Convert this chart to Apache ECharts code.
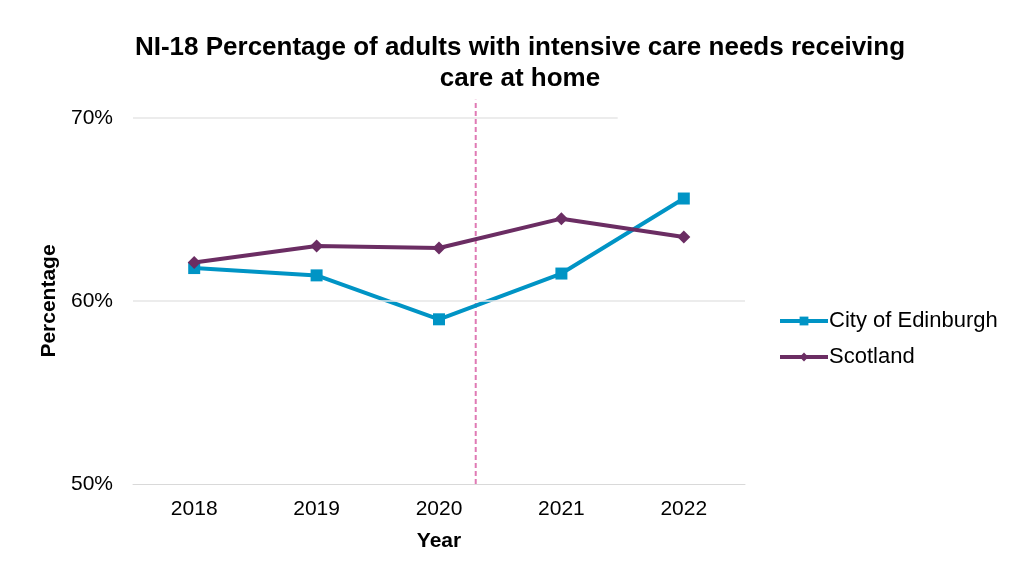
<!DOCTYPE html>
<html>
<head>
<meta charset="utf-8">
<script src="https://cdn.jsdelivr.net/npm/echarts@6/dist/echarts.min.js"></script>
<style>
  html, body { margin: 0; padding: 0; background: #fff; }
  #chart { width: 1009px; height: 571px; }
</style>
</head>
<body>
<div id="chart"></div>
<script>
const years = ['2018', '2019', '2020', '2021', '2022']
const edinburgh = [61.8, 61.4, 59.0, 61.5, 65.6]
const scotland = [62.1, 63.0, 62.9, 64.5, 63.5]
const yTicks = [50, 60, 70]
// position of the dashed divider, in category steps from 2018
const dividerAt = 2.3
const dividerLine = [[dividerAt, 50], [dividerAt, 71]]
const topGridEnd = 3.46

const font = 'Liberation Sans, Arial, sans-serif'
const chart = echarts.init(document.getElementById('chart'))

chart.setOption({
  animation: false,
  title: {
    text: 'NI-18 Percentage of adults with intensive care needs receiving\ncare at home',
    left: 515,
    textAlign: 'center',
    top: 27,
    textStyle: { fontFamily: font, fontSize: 26, fontWeight: 'bold', color: '#000', lineHeight: 31 }
  },
  legend: {
    orient: 'vertical',
    left: 773,
    top: 305,
    itemWidth: 48,
    itemHeight: 11,
    itemGap: 14,
    lineStyle: { width: 4 },
    textStyle: { fontFamily: font, fontSize: 22, color: '#000', padding: [0, 0, 0, -4] },
    data: ['City of Edinburgh', 'Scotland']
  },
  grid: { left: 133, right: 264, top: 118, bottom: 87 },
  xAxis: [
    {
      type: 'category',
      data: years,
      name: 'Year',
      nameLocation: 'middle',
      nameGap: 47,
      nameTextStyle: { fontFamily: font, fontSize: 21, fontWeight: 'bold', color: '#000' },
      axisLine: { lineStyle: { color: '#d9d9d9', width: 1 } },
      axisTick: { show: false },
      axisLabel: { fontFamily: font, fontSize: 21, color: '#000', margin: 15 }
    },
    {
      type: 'value',
      min: -0.5,
      max: 4.5,
      show: false
    }
  ],
  yAxis: {
    type: 'value',
    min: yTicks[0],
    max: yTicks[yTicks.length - 1],
    interval: 10,
    name: 'Percentage',
    nameLocation: 'middle',
    nameGap: 68,
    nameTextStyle: { fontFamily: font, fontSize: 21, fontWeight: 'bold', color: '#000' },
    axisLine: { show: false },
    axisTick: { show: false },
    splitLine: { show: false },
    axisLabel: { fontFamily: font, fontSize: 21, color: '#000', margin: 20, formatter: '{value}%' }
  },
  series: [
    {
      name: 'guides',
      type: 'line',
      xAxisIndex: 1,
      data: [],
      silent: true,
      z: 1,
      markLine: {
        symbol: 'none',
        silent: true,
        label: { show: false },
        data: [
          [{ coord: [-0.5, 60], lineStyle: { color: '#e6e6e6', width: 1.5, type: 'solid' } }, { coord: [4.5, 60] }],
          [{ coord: [-0.5, 70], lineStyle: { color: '#e6e6e6', width: 1.5, type: 'solid' } }, { coord: [topGridEnd, 70] }]
        ]
      }
    },
    {
      name: 'divider',
      type: 'line',
      xAxisIndex: 1,
      data: dividerLine,
      clip: false,
      silent: true,
      symbol: 'none',
      z: 2,
      lineStyle: { color: '#e07ab4', width: 2, type: [5, 3] }
    },
    {
      name: 'City of Edinburgh',
      type: 'line',
      data: edinburgh,
      symbol: 'rect',
      symbolSize: 12,
      z: 3,
      itemStyle: { color: '#0094c5' },
      lineStyle: { color: '#0094c5', width: 4 }
    },
    {
      name: 'Scotland',
      type: 'line',
      data: scotland,
      symbol: 'diamond',
      symbolSize: 13,
      z: 4,
      itemStyle: { color: '#6b2d63' },
      lineStyle: { color: '#6b2d63', width: 4 }
    }
  ]
})
</script>
</body>
</html>
